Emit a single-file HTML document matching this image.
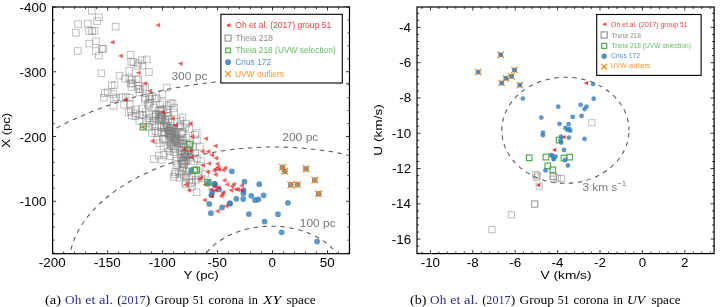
<!DOCTYPE html><html><head><meta charset="utf-8"><style>html,body{margin:0;padding:0;background:#fff;}svg{display:block;will-change:transform;}</style></head><body><svg width="725" height="307" viewBox="0 0 725 307">
<rect width="725" height="307" fill="#fff"/>
<defs><clipPath id="cl"><rect x="52.6" y="7" width="296.9" height="246.7"/></clipPath><clipPath id="cr"><rect x="417" y="7" width="297.1" height="246.6"/></clipPath></defs>
<g clip-path="url(#cl)">
<ellipse cx="271.4" cy="277.4" rx="74" ry="51.2" fill="none" stroke="#555" stroke-width="1.05" stroke-dasharray="4.5 4.5" stroke-dashoffset="0"/>
<ellipse cx="274.1" cy="266.9" rx="205.3" ry="119.9" fill="none" stroke="#555" stroke-width="1.05" stroke-dasharray="4.5 4.5" stroke-dashoffset="3.1"/>
<ellipse cx="274.1" cy="267.7" rx="323.4" ry="188.9" fill="none" stroke="#555" stroke-width="1.05" stroke-dasharray="4.5 4.5" stroke-dashoffset="-3.5"/>
<rect x="88.4" y="7.6" width="6.6" height="6.6" fill="none" stroke="#808080" stroke-width="0.9" stroke-opacity="0.55"/>
<rect x="95.6" y="13.9" width="6.6" height="6.6" fill="none" stroke="#808080" stroke-width="0.9" stroke-opacity="0.55"/>
<rect x="93.7" y="17.8" width="6.6" height="6.6" fill="none" stroke="#808080" stroke-width="0.9" stroke-opacity="0.55"/>
<rect x="74.7" y="20.8" width="6.6" height="6.6" fill="none" stroke="#808080" stroke-width="0.9" stroke-opacity="0.55"/>
<rect x="84.5" y="20.3" width="6.6" height="6.6" fill="none" stroke="#808080" stroke-width="0.9" stroke-opacity="0.55"/>
<rect x="112.3" y="23.3" width="6.6" height="6.6" fill="none" stroke="#808080" stroke-width="0.9" stroke-opacity="0.55"/>
<rect x="72.6" y="29.5" width="6.6" height="6.6" fill="none" stroke="#808080" stroke-width="0.9" stroke-opacity="0.55"/>
<rect x="85.9" y="27.6" width="6.6" height="6.6" fill="none" stroke="#808080" stroke-width="0.9" stroke-opacity="0.55"/>
<rect x="88.8" y="27.6" width="6.6" height="6.6" fill="none" stroke="#808080" stroke-width="0.9" stroke-opacity="0.55"/>
<rect x="91.3" y="27.6" width="6.6" height="6.6" fill="none" stroke="#808080" stroke-width="0.9" stroke-opacity="0.55"/>
<rect x="85.9" y="40.3" width="6.6" height="6.6" fill="none" stroke="#808080" stroke-width="0.9" stroke-opacity="0.55"/>
<rect x="92.7" y="37.9" width="6.6" height="6.6" fill="none" stroke="#808080" stroke-width="0.9" stroke-opacity="0.55"/>
<rect x="74.5" y="47.7" width="6.6" height="6.6" fill="none" stroke="#808080" stroke-width="0.9" stroke-opacity="0.55"/>
<rect x="92.7" y="47.7" width="6.6" height="6.6" fill="none" stroke="#808080" stroke-width="0.9" stroke-opacity="0.55"/>
<rect x="98.6" y="45.8" width="6.6" height="6.6" fill="none" stroke="#808080" stroke-width="0.9" stroke-opacity="0.55"/>
<rect x="99.9" y="45.4" width="6.6" height="6.6" fill="none" stroke="#808080" stroke-width="0.9" stroke-opacity="0.55"/>
<rect x="95.6" y="52.2" width="6.6" height="6.6" fill="none" stroke="#808080" stroke-width="0.9" stroke-opacity="0.55"/>
<rect x="127.2" y="51.6" width="6.6" height="6.6" fill="none" stroke="#808080" stroke-width="0.9" stroke-opacity="0.55"/>
<rect x="127.9" y="58.5" width="6.6" height="6.6" fill="none" stroke="#808080" stroke-width="0.9" stroke-opacity="0.55"/>
<rect x="143.4" y="56.1" width="6.6" height="6.6" fill="none" stroke="#808080" stroke-width="0.9" stroke-opacity="0.55"/>
<rect x="138.6" y="57" width="6.6" height="6.6" fill="none" stroke="#808080" stroke-width="0.9" stroke-opacity="0.55"/>
<rect x="135.2" y="60.1" width="6.6" height="6.6" fill="none" stroke="#808080" stroke-width="0.9" stroke-opacity="0.55"/>
<rect x="98" y="70" width="6.6" height="6.6" fill="none" stroke="#808080" stroke-width="0.9" stroke-opacity="0.55"/>
<rect x="116.2" y="72.3" width="6.6" height="6.6" fill="none" stroke="#808080" stroke-width="0.9" stroke-opacity="0.55"/>
<rect x="126" y="67.5" width="6.6" height="6.6" fill="none" stroke="#808080" stroke-width="0.9" stroke-opacity="0.55"/>
<rect x="121.5" y="75.3" width="6.6" height="6.6" fill="none" stroke="#808080" stroke-width="0.9" stroke-opacity="0.55"/>
<rect x="126" y="75.3" width="6.6" height="6.6" fill="none" stroke="#808080" stroke-width="0.9" stroke-opacity="0.55"/>
<rect x="108.4" y="82.1" width="6.6" height="6.6" fill="none" stroke="#808080" stroke-width="0.9" stroke-opacity="0.55"/>
<rect x="111.3" y="81.7" width="6.6" height="6.6" fill="none" stroke="#808080" stroke-width="0.9" stroke-opacity="0.55"/>
<rect x="104.4" y="89" width="6.6" height="6.6" fill="none" stroke="#808080" stroke-width="0.9" stroke-opacity="0.55"/>
<rect x="109.9" y="90.7" width="6.6" height="6.6" fill="none" stroke="#808080" stroke-width="0.9" stroke-opacity="0.55"/>
<rect x="100.5" y="94.5" width="6.6" height="6.6" fill="none" stroke="#808080" stroke-width="0.9" stroke-opacity="0.55"/>
<rect x="112.9" y="94.1" width="6.6" height="6.6" fill="none" stroke="#808080" stroke-width="0.9" stroke-opacity="0.55"/>
<rect x="118.3" y="94.2" width="6.6" height="6.6" fill="none" stroke="#808080" stroke-width="0.9" stroke-opacity="0.55"/>
<rect x="126.3" y="94.4" width="6.6" height="6.6" fill="none" stroke="#808080" stroke-width="0.9" stroke-opacity="0.55"/>
<rect x="110.3" y="102.5" width="6.6" height="6.6" fill="none" stroke="#808080" stroke-width="0.9" stroke-opacity="0.55"/>
<rect x="120.8" y="101.5" width="6.6" height="6.6" fill="none" stroke="#808080" stroke-width="0.9" stroke-opacity="0.55"/>
<rect x="126.5" y="100.7" width="6.6" height="6.6" fill="none" stroke="#808080" stroke-width="0.9" stroke-opacity="0.55"/>
<rect x="127.6" y="107.8" width="6.6" height="6.6" fill="none" stroke="#808080" stroke-width="0.9" stroke-opacity="0.55"/>
<rect x="130.1" y="58.9" width="6.6" height="6.6" fill="none" stroke="#808080" stroke-width="0.9" stroke-opacity="0.55"/>
<rect x="134" y="62.6" width="6.6" height="6.6" fill="none" stroke="#808080" stroke-width="0.9" stroke-opacity="0.55"/>
<rect x="139.1" y="62.2" width="6.6" height="6.6" fill="none" stroke="#808080" stroke-width="0.9" stroke-opacity="0.55"/>
<rect x="145.6" y="68.7" width="6.6" height="6.6" fill="none" stroke="#808080" stroke-width="0.9" stroke-opacity="0.55"/>
<rect x="128.4" y="76.5" width="6.6" height="6.6" fill="none" stroke="#808080" stroke-width="0.9" stroke-opacity="0.55"/>
<rect x="129.3" y="80.1" width="6.6" height="6.6" fill="none" stroke="#808080" stroke-width="0.9" stroke-opacity="0.55"/>
<rect x="135" y="76" width="6.6" height="6.6" fill="none" stroke="#808080" stroke-width="0.9" stroke-opacity="0.55"/>
<rect x="134.9" y="82.2" width="6.6" height="6.6" fill="none" stroke="#808080" stroke-width="0.9" stroke-opacity="0.55"/>
<rect x="136.7" y="85.8" width="6.6" height="6.6" fill="none" stroke="#808080" stroke-width="0.9" stroke-opacity="0.55"/>
<rect x="136.1" y="89.2" width="6.6" height="6.6" fill="none" stroke="#808080" stroke-width="0.9" stroke-opacity="0.55"/>
<rect x="101.6" y="89.9" width="6.6" height="6.6" fill="none" stroke="#808080" stroke-width="0.9" stroke-opacity="0.55"/>
<rect x="141.4" y="94.5" width="6.6" height="6.6" fill="none" stroke="#808080" stroke-width="0.9" stroke-opacity="0.55"/>
<rect x="148.9" y="93.2" width="6.6" height="6.6" fill="none" stroke="#808080" stroke-width="0.9" stroke-opacity="0.55"/>
<rect x="133.1" y="76.2" width="6.6" height="6.6" fill="none" stroke="#808080" stroke-width="0.9" stroke-opacity="0.55"/>
<rect x="127.4" y="80.2" width="6.6" height="6.6" fill="none" stroke="#808080" stroke-width="0.9" stroke-opacity="0.55"/>
<rect x="139.6" y="85.9" width="6.6" height="6.6" fill="none" stroke="#808080" stroke-width="0.9" stroke-opacity="0.55"/>
<rect x="163.3" y="84.3" width="6.6" height="6.6" fill="none" stroke="#808080" stroke-width="0.9" stroke-opacity="0.55"/>
<rect x="159.2" y="90.8" width="6.6" height="6.6" fill="none" stroke="#808080" stroke-width="0.9" stroke-opacity="0.55"/>
<rect x="153.5" y="94.9" width="6.6" height="6.6" fill="none" stroke="#808080" stroke-width="0.9" stroke-opacity="0.55"/>
<rect x="146.2" y="95.7" width="6.6" height="6.6" fill="none" stroke="#808080" stroke-width="0.9" stroke-opacity="0.55"/>
<rect x="122.5" y="93.3" width="6.6" height="6.6" fill="none" stroke="#808080" stroke-width="0.9" stroke-opacity="0.55"/>
<rect x="167.4" y="99.8" width="6.6" height="6.6" fill="none" stroke="#808080" stroke-width="0.9" stroke-opacity="0.55"/>
<rect x="159.2" y="99" width="6.6" height="6.6" fill="none" stroke="#808080" stroke-width="0.9" stroke-opacity="0.55"/>
<rect x="144.5" y="100.6" width="6.6" height="6.6" fill="none" stroke="#808080" stroke-width="0.9" stroke-opacity="0.55"/>
<rect x="110.6" y="95.4" width="6.6" height="6.6" fill="none" stroke="#808080" stroke-width="0.9" stroke-opacity="0.55"/>
<rect x="128.2" y="83.7" width="6.6" height="6.6" fill="none" stroke="#808080" stroke-width="0.9" stroke-opacity="0.55"/>
<rect x="135.1" y="85.6" width="6.6" height="6.6" fill="none" stroke="#808080" stroke-width="0.9" stroke-opacity="0.55"/>
<rect x="141.9" y="83.7" width="6.6" height="6.6" fill="none" stroke="#808080" stroke-width="0.9" stroke-opacity="0.55"/>
<rect x="145.8" y="93.4" width="6.6" height="6.6" fill="none" stroke="#808080" stroke-width="0.9" stroke-opacity="0.55"/>
<rect x="151.7" y="95.4" width="6.6" height="6.6" fill="none" stroke="#808080" stroke-width="0.9" stroke-opacity="0.55"/>
<rect x="141.9" y="96.4" width="6.6" height="6.6" fill="none" stroke="#808080" stroke-width="0.9" stroke-opacity="0.55"/>
<rect x="146.8" y="99.3" width="6.6" height="6.6" fill="none" stroke="#808080" stroke-width="0.9" stroke-opacity="0.55"/>
<rect x="125.3" y="109.1" width="6.6" height="6.6" fill="none" stroke="#808080" stroke-width="0.9" stroke-opacity="0.55"/>
<rect x="132.1" y="106.2" width="6.6" height="6.6" fill="none" stroke="#808080" stroke-width="0.9" stroke-opacity="0.55"/>
<rect x="139" y="105.2" width="6.6" height="6.6" fill="none" stroke="#808080" stroke-width="0.9" stroke-opacity="0.55"/>
<rect x="145.8" y="102.2" width="6.6" height="6.6" fill="none" stroke="#808080" stroke-width="0.9" stroke-opacity="0.55"/>
<rect x="150.7" y="104.2" width="6.6" height="6.6" fill="none" stroke="#808080" stroke-width="0.9" stroke-opacity="0.55"/>
<rect x="156.6" y="101.3" width="6.6" height="6.6" fill="none" stroke="#808080" stroke-width="0.9" stroke-opacity="0.55"/>
<rect x="165.4" y="102.2" width="6.6" height="6.6" fill="none" stroke="#808080" stroke-width="0.9" stroke-opacity="0.55"/>
<rect x="169.3" y="100.3" width="6.6" height="6.6" fill="none" stroke="#808080" stroke-width="0.9" stroke-opacity="0.55"/>
<rect x="163.4" y="106.2" width="6.6" height="6.6" fill="none" stroke="#808080" stroke-width="0.9" stroke-opacity="0.55"/>
<rect x="132.1" y="113" width="6.6" height="6.6" fill="none" stroke="#808080" stroke-width="0.9" stroke-opacity="0.55"/>
<rect x="140" y="112" width="6.6" height="6.6" fill="none" stroke="#808080" stroke-width="0.9" stroke-opacity="0.55"/>
<rect x="145.8" y="111" width="6.6" height="6.6" fill="none" stroke="#808080" stroke-width="0.9" stroke-opacity="0.55"/>
<rect x="152.7" y="111" width="6.6" height="6.6" fill="none" stroke="#808080" stroke-width="0.9" stroke-opacity="0.55"/>
<rect x="158.5" y="112" width="6.6" height="6.6" fill="none" stroke="#808080" stroke-width="0.9" stroke-opacity="0.55"/>
<rect x="165.4" y="113" width="6.6" height="6.6" fill="none" stroke="#808080" stroke-width="0.9" stroke-opacity="0.55"/>
<rect x="136" y="117.9" width="6.6" height="6.6" fill="none" stroke="#808080" stroke-width="0.9" stroke-opacity="0.55"/>
<rect x="143.9" y="116.9" width="6.6" height="6.6" fill="none" stroke="#808080" stroke-width="0.9" stroke-opacity="0.55"/>
<rect x="149.7" y="117.9" width="6.6" height="6.6" fill="none" stroke="#808080" stroke-width="0.9" stroke-opacity="0.55"/>
<rect x="155.6" y="116.9" width="6.6" height="6.6" fill="none" stroke="#808080" stroke-width="0.9" stroke-opacity="0.55"/>
<rect x="161.5" y="116.9" width="6.6" height="6.6" fill="none" stroke="#808080" stroke-width="0.9" stroke-opacity="0.55"/>
<rect x="179.1" y="114" width="6.6" height="6.6" fill="none" stroke="#808080" stroke-width="0.9" stroke-opacity="0.55"/>
<rect x="177.1" y="121.8" width="6.6" height="6.6" fill="none" stroke="#808080" stroke-width="0.9" stroke-opacity="0.55"/>
<rect x="145.8" y="123.8" width="6.6" height="6.6" fill="none" stroke="#808080" stroke-width="0.9" stroke-opacity="0.55"/>
<rect x="151.7" y="122.8" width="6.6" height="6.6" fill="none" stroke="#808080" stroke-width="0.9" stroke-opacity="0.55"/>
<rect x="157.6" y="123.8" width="6.6" height="6.6" fill="none" stroke="#808080" stroke-width="0.9" stroke-opacity="0.55"/>
<rect x="163.4" y="122.8" width="6.6" height="6.6" fill="none" stroke="#808080" stroke-width="0.9" stroke-opacity="0.55"/>
<rect x="169.3" y="124.7" width="6.6" height="6.6" fill="none" stroke="#808080" stroke-width="0.9" stroke-opacity="0.55"/>
<rect x="148.7" y="129.6" width="6.6" height="6.6" fill="none" stroke="#808080" stroke-width="0.9" stroke-opacity="0.55"/>
<rect x="154.6" y="129.6" width="6.6" height="6.6" fill="none" stroke="#808080" stroke-width="0.9" stroke-opacity="0.55"/>
<rect x="160.5" y="128.6" width="6.6" height="6.6" fill="none" stroke="#808080" stroke-width="0.9" stroke-opacity="0.55"/>
<rect x="165.4" y="130.6" width="6.6" height="6.6" fill="none" stroke="#808080" stroke-width="0.9" stroke-opacity="0.55"/>
<rect x="171.2" y="128.6" width="6.6" height="6.6" fill="none" stroke="#808080" stroke-width="0.9" stroke-opacity="0.55"/>
<rect x="179.1" y="128.6" width="6.6" height="6.6" fill="none" stroke="#808080" stroke-width="0.9" stroke-opacity="0.55"/>
<rect x="153.6" y="136.5" width="6.6" height="6.6" fill="none" stroke="#808080" stroke-width="0.9" stroke-opacity="0.55"/>
<rect x="159.5" y="135.5" width="6.6" height="6.6" fill="none" stroke="#808080" stroke-width="0.9" stroke-opacity="0.55"/>
<rect x="165.4" y="136.5" width="6.6" height="6.6" fill="none" stroke="#808080" stroke-width="0.9" stroke-opacity="0.55"/>
<rect x="171.2" y="135.5" width="6.6" height="6.6" fill="none" stroke="#808080" stroke-width="0.9" stroke-opacity="0.55"/>
<rect x="177.1" y="137.4" width="6.6" height="6.6" fill="none" stroke="#808080" stroke-width="0.9" stroke-opacity="0.55"/>
<rect x="183" y="134.5" width="6.6" height="6.6" fill="none" stroke="#808080" stroke-width="0.9" stroke-opacity="0.55"/>
<rect x="132.6" y="110" width="6.6" height="6.6" fill="none" stroke="#808080" stroke-width="0.9" stroke-opacity="0.55"/>
<rect x="128.5" y="112.4" width="6.6" height="6.6" fill="none" stroke="#808080" stroke-width="0.9" stroke-opacity="0.55"/>
<rect x="136.7" y="111.6" width="6.6" height="6.6" fill="none" stroke="#808080" stroke-width="0.9" stroke-opacity="0.55"/>
<rect x="142.4" y="109.1" width="6.6" height="6.6" fill="none" stroke="#808080" stroke-width="0.9" stroke-opacity="0.55"/>
<rect x="145.6" y="114.9" width="6.6" height="6.6" fill="none" stroke="#808080" stroke-width="0.9" stroke-opacity="0.55"/>
<rect x="148.9" y="121.4" width="6.6" height="6.6" fill="none" stroke="#808080" stroke-width="0.9" stroke-opacity="0.55"/>
<rect x="152.1" y="127.9" width="6.6" height="6.6" fill="none" stroke="#808080" stroke-width="0.9" stroke-opacity="0.55"/>
<rect x="150.6" y="155.8" width="6.6" height="6.6" fill="none" stroke="#808080" stroke-width="0.9" stroke-opacity="0.55"/>
<rect x="155.5" y="152.2" width="6.6" height="6.6" fill="none" stroke="#808080" stroke-width="0.9" stroke-opacity="0.55"/>
<rect x="158.5" y="156.5" width="6.6" height="6.6" fill="none" stroke="#808080" stroke-width="0.9" stroke-opacity="0.55"/>
<rect x="160.3" y="151.6" width="6.6" height="6.6" fill="none" stroke="#808080" stroke-width="0.9" stroke-opacity="0.55"/>
<rect x="172.7" y="157.5" width="6.6" height="6.6" fill="none" stroke="#808080" stroke-width="0.9" stroke-opacity="0.55"/>
<rect x="173.1" y="161.8" width="6.6" height="6.6" fill="none" stroke="#808080" stroke-width="0.9" stroke-opacity="0.55"/>
<rect x="178.4" y="160.7" width="6.6" height="6.6" fill="none" stroke="#808080" stroke-width="0.9" stroke-opacity="0.55"/>
<rect x="181.9" y="156.9" width="6.6" height="6.6" fill="none" stroke="#808080" stroke-width="0.9" stroke-opacity="0.55"/>
<rect x="187.8" y="157.9" width="6.6" height="6.6" fill="none" stroke="#808080" stroke-width="0.9" stroke-opacity="0.55"/>
<rect x="193.6" y="155" width="6.6" height="6.6" fill="none" stroke="#808080" stroke-width="0.9" stroke-opacity="0.55"/>
<rect x="197.6" y="157.9" width="6.6" height="6.6" fill="none" stroke="#808080" stroke-width="0.9" stroke-opacity="0.55"/>
<rect x="180" y="164.7" width="6.6" height="6.6" fill="none" stroke="#808080" stroke-width="0.9" stroke-opacity="0.55"/>
<rect x="185.8" y="167.7" width="6.6" height="6.6" fill="none" stroke="#808080" stroke-width="0.9" stroke-opacity="0.55"/>
<rect x="172.1" y="168.7" width="6.6" height="6.6" fill="none" stroke="#808080" stroke-width="0.9" stroke-opacity="0.55"/>
<rect x="178" y="170.6" width="6.6" height="6.6" fill="none" stroke="#808080" stroke-width="0.9" stroke-opacity="0.55"/>
<rect x="170.5" y="173.5" width="6.6" height="6.6" fill="none" stroke="#808080" stroke-width="0.9" stroke-opacity="0.55"/>
<rect x="176.3" y="174.4" width="6.6" height="6.6" fill="none" stroke="#808080" stroke-width="0.9" stroke-opacity="0.55"/>
<rect x="182.9" y="173.5" width="6.6" height="6.6" fill="none" stroke="#808080" stroke-width="0.9" stroke-opacity="0.55"/>
<rect x="188.8" y="172.6" width="6.6" height="6.6" fill="none" stroke="#808080" stroke-width="0.9" stroke-opacity="0.55"/>
<rect x="194.6" y="171.6" width="6.6" height="6.6" fill="none" stroke="#808080" stroke-width="0.9" stroke-opacity="0.55"/>
<rect x="181.9" y="179.4" width="6.6" height="6.6" fill="none" stroke="#808080" stroke-width="0.9" stroke-opacity="0.55"/>
<rect x="188.8" y="178.4" width="6.6" height="6.6" fill="none" stroke="#808080" stroke-width="0.9" stroke-opacity="0.55"/>
<rect x="192.7" y="176.5" width="6.6" height="6.6" fill="none" stroke="#808080" stroke-width="0.9" stroke-opacity="0.55"/>
<rect x="185.8" y="125.6" width="6.6" height="6.6" fill="none" stroke="#808080" stroke-width="0.9" stroke-opacity="0.55"/>
<rect x="191.7" y="131.5" width="6.6" height="6.6" fill="none" stroke="#808080" stroke-width="0.9" stroke-opacity="0.55"/>
<rect x="193.6" y="137.3" width="6.6" height="6.6" fill="none" stroke="#808080" stroke-width="0.9" stroke-opacity="0.55"/>
<rect x="189.7" y="143.2" width="6.6" height="6.6" fill="none" stroke="#808080" stroke-width="0.9" stroke-opacity="0.55"/>
<rect x="196.6" y="143.2" width="6.6" height="6.6" fill="none" stroke="#808080" stroke-width="0.9" stroke-opacity="0.55"/>
<rect x="180.9" y="143.2" width="6.6" height="6.6" fill="none" stroke="#808080" stroke-width="0.9" stroke-opacity="0.55"/>
<rect x="183.9" y="147.1" width="6.6" height="6.6" fill="none" stroke="#808080" stroke-width="0.9" stroke-opacity="0.55"/>
<rect x="180.9" y="151" width="6.6" height="6.6" fill="none" stroke="#808080" stroke-width="0.9" stroke-opacity="0.55"/>
<rect x="185.8" y="152" width="6.6" height="6.6" fill="none" stroke="#808080" stroke-width="0.9" stroke-opacity="0.55"/>
<rect x="156.2" y="140" width="6.6" height="6.6" fill="none" stroke="#808080" stroke-width="0.9" stroke-opacity="0.55"/>
<rect x="160.2" y="143.2" width="6.6" height="6.6" fill="none" stroke="#808080" stroke-width="0.9" stroke-opacity="0.55"/>
<rect x="164.3" y="144.9" width="6.6" height="6.6" fill="none" stroke="#808080" stroke-width="0.9" stroke-opacity="0.55"/>
<rect x="169.2" y="143.2" width="6.6" height="6.6" fill="none" stroke="#808080" stroke-width="0.9" stroke-opacity="0.55"/>
<rect x="165.9" y="148.1" width="6.6" height="6.6" fill="none" stroke="#808080" stroke-width="0.9" stroke-opacity="0.55"/>
<rect x="170.8" y="148.9" width="6.6" height="6.6" fill="none" stroke="#808080" stroke-width="0.9" stroke-opacity="0.55"/>
<rect x="166.8" y="153" width="6.6" height="6.6" fill="none" stroke="#808080" stroke-width="0.9" stroke-opacity="0.55"/>
<rect x="174.1" y="160.3" width="6.6" height="6.6" fill="none" stroke="#808080" stroke-width="0.9" stroke-opacity="0.55"/>
<rect x="171.7" y="170.9" width="6.6" height="6.6" fill="none" stroke="#808080" stroke-width="0.9" stroke-opacity="0.55"/>
<rect x="175.7" y="169.3" width="6.6" height="6.6" fill="none" stroke="#808080" stroke-width="0.9" stroke-opacity="0.55"/>
<rect x="179" y="167.7" width="6.6" height="6.6" fill="none" stroke="#808080" stroke-width="0.9" stroke-opacity="0.55"/>
<rect x="180.6" y="172" width="6.6" height="6.6" fill="none" stroke="#808080" stroke-width="0.9" stroke-opacity="0.55"/>
<rect x="186" y="176" width="6.6" height="6.6" fill="none" stroke="#808080" stroke-width="0.9" stroke-opacity="0.55"/>
<rect x="188" y="179.9" width="6.6" height="6.6" fill="none" stroke="#808080" stroke-width="0.9" stroke-opacity="0.55"/>
<rect x="188.6" y="183.6" width="6.6" height="6.6" fill="none" stroke="#808080" stroke-width="0.9" stroke-opacity="0.55"/>
<rect x="175.7" y="140" width="6.6" height="6.6" fill="none" stroke="#808080" stroke-width="0.9" stroke-opacity="0.55"/>
<rect x="180.6" y="140.8" width="6.6" height="6.6" fill="none" stroke="#808080" stroke-width="0.9" stroke-opacity="0.55"/>
<rect x="172.5" y="139.1" width="6.6" height="6.6" fill="none" stroke="#808080" stroke-width="0.9" stroke-opacity="0.55"/>
<rect x="177.4" y="154.6" width="6.6" height="6.6" fill="none" stroke="#808080" stroke-width="0.9" stroke-opacity="0.55"/>
<rect x="180.6" y="161.2" width="6.6" height="6.6" fill="none" stroke="#808080" stroke-width="0.9" stroke-opacity="0.55"/>
<rect x="182.6" y="181.1" width="6.6" height="6.6" fill="none" stroke="#808080" stroke-width="0.9" stroke-opacity="0.55"/>
<rect x="193.3" y="189" width="6.6" height="6.6" fill="none" stroke="#808080" stroke-width="0.9" stroke-opacity="0.55"/>
<rect x="198.2" y="175.3" width="6.6" height="6.6" fill="none" stroke="#808080" stroke-width="0.9" stroke-opacity="0.55"/>
<rect x="202.1" y="170.4" width="6.6" height="6.6" fill="none" stroke="#808080" stroke-width="0.9" stroke-opacity="0.55"/>
<rect x="196.3" y="162.6" width="6.6" height="6.6" fill="none" stroke="#808080" stroke-width="0.9" stroke-opacity="0.55"/>
<rect x="183.5" y="168.4" width="6.6" height="6.6" fill="none" stroke="#808080" stroke-width="0.9" stroke-opacity="0.55"/>
<rect x="209" y="184.1" width="6.6" height="6.6" fill="none" stroke="#808080" stroke-width="0.9" stroke-opacity="0.55"/>
<rect x="170.6" y="104.7" width="6.6" height="6.6" fill="none" stroke="#808080" stroke-width="0.9" stroke-opacity="0.55"/>
<rect x="170.9" y="109.2" width="6.6" height="6.6" fill="none" stroke="#808080" stroke-width="0.9" stroke-opacity="0.55"/>
<rect x="177.1" y="117.1" width="6.6" height="6.6" fill="none" stroke="#808080" stroke-width="0.9" stroke-opacity="0.55"/>
<rect x="183" y="120.3" width="6.6" height="6.6" fill="none" stroke="#808080" stroke-width="0.9" stroke-opacity="0.55"/>
<rect x="181.7" y="124.3" width="6.6" height="6.6" fill="none" stroke="#808080" stroke-width="0.9" stroke-opacity="0.55"/>
<rect x="177.1" y="123" width="6.6" height="6.6" fill="none" stroke="#808080" stroke-width="0.9" stroke-opacity="0.55"/>
<rect x="193.4" y="129.5" width="6.6" height="6.6" fill="none" stroke="#808080" stroke-width="0.9" stroke-opacity="0.55"/>
<rect x="160.6" y="124.45" width="6.6" height="6.6" fill="none" stroke="#808080" stroke-width="0.9" stroke-opacity="0.55"/>
<rect x="150.84" y="113.24" width="6.6" height="6.6" fill="none" stroke="#808080" stroke-width="0.9" stroke-opacity="0.55"/>
<rect x="171.76" y="131.82" width="6.6" height="6.6" fill="none" stroke="#808080" stroke-width="0.9" stroke-opacity="0.55"/>
<rect x="169" y="131.73" width="6.6" height="6.6" fill="none" stroke="#808080" stroke-width="0.9" stroke-opacity="0.55"/>
<rect x="155.25" y="107.59" width="6.6" height="6.6" fill="none" stroke="#808080" stroke-width="0.9" stroke-opacity="0.55"/>
<rect x="155.22" y="111.46" width="6.6" height="6.6" fill="none" stroke="#808080" stroke-width="0.9" stroke-opacity="0.55"/>
<rect x="166.26" y="127.7" width="6.6" height="6.6" fill="none" stroke="#808080" stroke-width="0.9" stroke-opacity="0.55"/>
<rect x="161.96" y="116.23" width="6.6" height="6.6" fill="none" stroke="#808080" stroke-width="0.9" stroke-opacity="0.55"/>
<rect x="169.47" y="140.05" width="6.6" height="6.6" fill="none" stroke="#808080" stroke-width="0.9" stroke-opacity="0.55"/>
<rect x="167.74" y="124.64" width="6.6" height="6.6" fill="none" stroke="#808080" stroke-width="0.9" stroke-opacity="0.55"/>
<rect x="178.94" y="158.49" width="6.6" height="6.6" fill="none" stroke="#808080" stroke-width="0.9" stroke-opacity="0.55"/>
<rect x="160.45" y="122.09" width="6.6" height="6.6" fill="none" stroke="#808080" stroke-width="0.9" stroke-opacity="0.55"/>
<rect x="155.28" y="115.27" width="6.6" height="6.6" fill="none" stroke="#808080" stroke-width="0.9" stroke-opacity="0.55"/>
<rect x="178.32" y="147.38" width="6.6" height="6.6" fill="none" stroke="#808080" stroke-width="0.9" stroke-opacity="0.55"/>
<rect x="163.41" y="112.14" width="6.6" height="6.6" fill="none" stroke="#808080" stroke-width="0.9" stroke-opacity="0.55"/>
<rect x="167.93" y="122.75" width="6.6" height="6.6" fill="none" stroke="#808080" stroke-width="0.9" stroke-opacity="0.55"/>
<rect x="170.13" y="133.83" width="6.6" height="6.6" fill="none" stroke="#808080" stroke-width="0.9" stroke-opacity="0.55"/>
<rect x="159.21" y="116.94" width="6.6" height="6.6" fill="none" stroke="#808080" stroke-width="0.9" stroke-opacity="0.55"/>
<rect x="178.7" y="137.33" width="6.6" height="6.6" fill="none" stroke="#808080" stroke-width="0.9" stroke-opacity="0.55"/>
<rect x="171.21" y="135.8" width="6.6" height="6.6" fill="none" stroke="#808080" stroke-width="0.9" stroke-opacity="0.55"/>
<rect x="170.12" y="127.03" width="6.6" height="6.6" fill="none" stroke="#808080" stroke-width="0.9" stroke-opacity="0.55"/>
<rect x="170.25" y="144.65" width="6.6" height="6.6" fill="none" stroke="#808080" stroke-width="0.9" stroke-opacity="0.55"/>
<rect x="165" y="115.58" width="6.6" height="6.6" fill="none" stroke="#808080" stroke-width="0.9" stroke-opacity="0.55"/>
<rect x="184.47" y="147.28" width="6.6" height="6.6" fill="none" stroke="#808080" stroke-width="0.9" stroke-opacity="0.55"/>
<rect x="179.93" y="139.99" width="6.6" height="6.6" fill="none" stroke="#808080" stroke-width="0.9" stroke-opacity="0.55"/>
<rect x="146.72" y="119.44" width="6.6" height="6.6" fill="none" stroke="#808080" stroke-width="0.9" stroke-opacity="0.55"/>
<rect x="166.82" y="126.84" width="6.6" height="6.6" fill="none" stroke="#808080" stroke-width="0.9" stroke-opacity="0.55"/>
<rect x="171.43" y="128.68" width="6.6" height="6.6" fill="none" stroke="#808080" stroke-width="0.9" stroke-opacity="0.55"/>
<rect x="157.1" y="106.41" width="6.6" height="6.6" fill="none" stroke="#808080" stroke-width="0.9" stroke-opacity="0.55"/>
<rect x="177.62" y="130.35" width="6.6" height="6.6" fill="none" stroke="#808080" stroke-width="0.9" stroke-opacity="0.55"/>
<rect x="184.67" y="147.16" width="6.6" height="6.6" fill="none" stroke="#808080" stroke-width="0.9" stroke-opacity="0.55"/>
<rect x="167.7" y="138.92" width="6.6" height="6.6" fill="none" stroke="#808080" stroke-width="0.9" stroke-opacity="0.55"/>
<rect x="179.18" y="129.74" width="6.6" height="6.6" fill="none" stroke="#808080" stroke-width="0.9" stroke-opacity="0.55"/>
<rect x="182.91" y="153.4" width="6.6" height="6.6" fill="none" stroke="#808080" stroke-width="0.9" stroke-opacity="0.55"/>
<rect x="169.49" y="128.98" width="6.6" height="6.6" fill="none" stroke="#808080" stroke-width="0.9" stroke-opacity="0.55"/>
<rect x="177.67" y="139.58" width="6.6" height="6.6" fill="none" stroke="#808080" stroke-width="0.9" stroke-opacity="0.55"/>
<rect x="167.89" y="142.59" width="6.6" height="6.6" fill="none" stroke="#808080" stroke-width="0.9" stroke-opacity="0.55"/>
<rect x="162.67" y="120.15" width="6.6" height="6.6" fill="none" stroke="#808080" stroke-width="0.9" stroke-opacity="0.55"/>
<rect x="166.2" y="124.95" width="6.6" height="6.6" fill="none" stroke="#808080" stroke-width="0.9" stroke-opacity="0.55"/>
<rect x="169.08" y="128.38" width="6.6" height="6.6" fill="none" stroke="#808080" stroke-width="0.9" stroke-opacity="0.55"/>
<rect x="157.46" y="115.44" width="6.6" height="6.6" fill="none" stroke="#808080" stroke-width="0.9" stroke-opacity="0.55"/>
<rect x="177.96" y="144.18" width="6.6" height="6.6" fill="none" stroke="#808080" stroke-width="0.9" stroke-opacity="0.55"/>
<rect x="157.04" y="112.95" width="6.6" height="6.6" fill="none" stroke="#808080" stroke-width="0.9" stroke-opacity="0.55"/>
<rect x="178.67" y="151.12" width="6.6" height="6.6" fill="none" stroke="#808080" stroke-width="0.9" stroke-opacity="0.55"/>
<rect x="159.84" y="107.45" width="6.6" height="6.6" fill="none" stroke="#808080" stroke-width="0.9" stroke-opacity="0.55"/>
<rect x="181.28" y="150.13" width="6.6" height="6.6" fill="none" stroke="#808080" stroke-width="0.9" stroke-opacity="0.55"/>
<rect x="178.61" y="147.4" width="6.6" height="6.6" fill="none" stroke="#808080" stroke-width="0.9" stroke-opacity="0.55"/>
<rect x="169.06" y="125.05" width="6.6" height="6.6" fill="none" stroke="#808080" stroke-width="0.9" stroke-opacity="0.55"/>
<rect x="158" y="128.81" width="6.6" height="6.6" fill="none" stroke="#808080" stroke-width="0.9" stroke-opacity="0.55"/>
<rect x="163.97" y="109.59" width="6.6" height="6.6" fill="none" stroke="#808080" stroke-width="0.9" stroke-opacity="0.55"/>
<rect x="158.39" y="115.37" width="6.6" height="6.6" fill="none" stroke="#808080" stroke-width="0.9" stroke-opacity="0.55"/>
<rect x="166.53" y="131.86" width="6.6" height="6.6" fill="none" stroke="#808080" stroke-width="0.9" stroke-opacity="0.55"/>
<rect x="172.76" y="134.96" width="6.6" height="6.6" fill="none" stroke="#808080" stroke-width="0.9" stroke-opacity="0.55"/>
<rect x="166.61" y="127.04" width="6.6" height="6.6" fill="none" stroke="#808080" stroke-width="0.9" stroke-opacity="0.55"/>
<rect x="173.56" y="118.54" width="6.6" height="6.6" fill="none" stroke="#808080" stroke-width="0.9" stroke-opacity="0.55"/>
<rect x="179.85" y="137.24" width="6.6" height="6.6" fill="none" stroke="#808080" stroke-width="0.9" stroke-opacity="0.55"/>
<rect x="174.3" y="128.56" width="6.6" height="6.6" fill="none" stroke="#808080" stroke-width="0.9" stroke-opacity="0.55"/>
<rect x="158.25" y="106.66" width="6.6" height="6.6" fill="none" stroke="#808080" stroke-width="0.9" stroke-opacity="0.55"/>
<rect x="181.88" y="150.87" width="6.6" height="6.6" fill="none" stroke="#808080" stroke-width="0.9" stroke-opacity="0.55"/>
<rect x="187.18" y="139.79" width="6.6" height="6.6" fill="none" stroke="#808080" stroke-width="0.9" stroke-opacity="0.55"/>
<rect x="167.42" y="124.55" width="6.6" height="6.6" fill="none" stroke="#808080" stroke-width="0.9" stroke-opacity="0.55"/>
<rect x="173.25" y="137.87" width="6.6" height="6.6" fill="none" stroke="#808080" stroke-width="0.9" stroke-opacity="0.55"/>
<rect x="152.53" y="111.31" width="6.6" height="6.6" fill="none" stroke="#808080" stroke-width="0.9" stroke-opacity="0.55"/>
<rect x="157.19" y="115.22" width="6.6" height="6.6" fill="none" stroke="#808080" stroke-width="0.9" stroke-opacity="0.55"/>
<rect x="164.19" y="123.08" width="6.6" height="6.6" fill="none" stroke="#808080" stroke-width="0.9" stroke-opacity="0.55"/>
<rect x="157.82" y="113.98" width="6.6" height="6.6" fill="none" stroke="#808080" stroke-width="0.9" stroke-opacity="0.55"/>
<rect x="156.7" y="111.18" width="6.6" height="6.6" fill="none" stroke="#808080" stroke-width="0.9" stroke-opacity="0.55"/>
<rect x="181.8" y="149.11" width="6.6" height="6.6" fill="none" stroke="#808080" stroke-width="0.9" stroke-opacity="0.55"/>
<rect x="171.91" y="137.36" width="6.6" height="6.6" fill="none" stroke="#808080" stroke-width="0.9" stroke-opacity="0.55"/>
<rect x="162.26" y="124.97" width="6.6" height="6.6" fill="none" stroke="#808080" stroke-width="0.9" stroke-opacity="0.55"/>
<rect x="167.78" y="140.82" width="6.6" height="6.6" fill="none" stroke="#808080" stroke-width="0.9" stroke-opacity="0.55"/>
<rect x="181.11" y="159.6" width="6.6" height="6.6" fill="none" stroke="#808080" stroke-width="0.9" stroke-opacity="0.55"/>
<rect x="175.87" y="139.71" width="6.6" height="6.6" fill="none" stroke="#808080" stroke-width="0.9" stroke-opacity="0.55"/>
<rect x="166.71" y="129.86" width="6.6" height="6.6" fill="none" stroke="#808080" stroke-width="0.9" stroke-opacity="0.55"/>
<rect x="172.47" y="136.58" width="6.6" height="6.6" fill="none" stroke="#808080" stroke-width="0.9" stroke-opacity="0.55"/>
<rect x="161.96" y="135.83" width="6.6" height="6.6" fill="none" stroke="#808080" stroke-width="0.9" stroke-opacity="0.55"/>
<rect x="161.36" y="130.07" width="6.6" height="6.6" fill="none" stroke="#808080" stroke-width="0.9" stroke-opacity="0.55"/>
<rect x="169" y="130.25" width="6.6" height="6.6" fill="none" stroke="#808080" stroke-width="0.9" stroke-opacity="0.55"/>
<rect x="172.15" y="145.77" width="6.6" height="6.6" fill="none" stroke="#808080" stroke-width="0.9" stroke-opacity="0.55"/>
<rect x="184.57" y="156.53" width="6.6" height="6.6" fill="none" stroke="#808080" stroke-width="0.9" stroke-opacity="0.55"/>
<rect x="183.68" y="152.01" width="6.6" height="6.6" fill="none" stroke="#808080" stroke-width="0.9" stroke-opacity="0.55"/>
<rect x="174.81" y="136.02" width="6.6" height="6.6" fill="none" stroke="#808080" stroke-width="0.9" stroke-opacity="0.55"/>
<rect x="167.65" y="132.1" width="6.6" height="6.6" fill="none" stroke="#808080" stroke-width="0.9" stroke-opacity="0.55"/>
<rect x="185.06" y="147.27" width="6.6" height="6.6" fill="none" stroke="#808080" stroke-width="0.9" stroke-opacity="0.55"/>
<rect x="170.61" y="137.3" width="6.6" height="6.6" fill="none" stroke="#808080" stroke-width="0.9" stroke-opacity="0.55"/>
<rect x="179.48" y="160.38" width="6.6" height="6.6" fill="none" stroke="#808080" stroke-width="0.9" stroke-opacity="0.55"/>
<rect x="180.52" y="153.74" width="6.6" height="6.6" fill="none" stroke="#808080" stroke-width="0.9" stroke-opacity="0.55"/>
<rect x="185.92" y="144.92" width="6.6" height="6.6" fill="none" stroke="#808080" stroke-width="0.9" stroke-opacity="0.55"/>
<rect x="172.51" y="131.37" width="6.6" height="6.6" fill="none" stroke="#808080" stroke-width="0.9" stroke-opacity="0.55"/>
<rect x="165.65" y="127.33" width="6.6" height="6.6" fill="none" stroke="#808080" stroke-width="0.9" stroke-opacity="0.55"/>
<rect x="165.75" y="127.21" width="6.6" height="6.6" fill="none" stroke="#808080" stroke-width="0.9" stroke-opacity="0.55"/>
<rect x="176.75" y="149.22" width="6.6" height="6.6" fill="none" stroke="#808080" stroke-width="0.9" stroke-opacity="0.55"/>
<rect x="192.07" y="150.3" width="6.6" height="6.6" fill="none" stroke="#808080" stroke-width="0.9" stroke-opacity="0.55"/>
<rect x="182.94" y="158.1" width="6.6" height="6.6" fill="none" stroke="#808080" stroke-width="0.9" stroke-opacity="0.55"/>
<rect x="186.28" y="154.28" width="6.6" height="6.6" fill="none" stroke="#808080" stroke-width="0.9" stroke-opacity="0.55"/>
<rect x="167.73" y="134.72" width="6.6" height="6.6" fill="none" stroke="#808080" stroke-width="0.9" stroke-opacity="0.55"/>
<rect x="167.53" y="133.51" width="6.6" height="6.6" fill="none" stroke="#808080" stroke-width="0.9" stroke-opacity="0.55"/>
<rect x="179.21" y="156.79" width="6.6" height="6.6" fill="none" stroke="#808080" stroke-width="0.9" stroke-opacity="0.55"/>
<rect x="187.08" y="148.6" width="6.6" height="6.6" fill="none" stroke="#808080" stroke-width="0.9" stroke-opacity="0.55"/>
<rect x="180.88" y="151.12" width="6.6" height="6.6" fill="none" stroke="#808080" stroke-width="0.9" stroke-opacity="0.55"/>
<circle cx="231.8" cy="171.3" r="2.9" fill="#377eb8" fill-opacity="0.8"/>
<circle cx="244.5" cy="181.7" r="2.9" fill="#377eb8" fill-opacity="0.8"/>
<circle cx="259.3" cy="184.2" r="2.9" fill="#377eb8" fill-opacity="0.8"/>
<circle cx="215.2" cy="184.4" r="2.9" fill="#377eb8" fill-opacity="0.8"/>
<circle cx="219.1" cy="189.3" r="2.9" fill="#377eb8" fill-opacity="0.8"/>
<circle cx="212.3" cy="192.3" r="2.9" fill="#377eb8" fill-opacity="0.8"/>
<circle cx="211.3" cy="195.2" r="2.9" fill="#377eb8" fill-opacity="0.8"/>
<circle cx="243.6" cy="190.3" r="2.9" fill="#377eb8" fill-opacity="0.8"/>
<circle cx="243.4" cy="193.2" r="2.9" fill="#377eb8" fill-opacity="0.8"/>
<circle cx="251.3" cy="195.8" r="2.9" fill="#377eb8" fill-opacity="0.8"/>
<circle cx="236.3" cy="198.8" r="2.9" fill="#377eb8" fill-opacity="0.8"/>
<circle cx="243.2" cy="199" r="2.9" fill="#377eb8" fill-opacity="0.8"/>
<circle cx="255.1" cy="200.2" r="2.9" fill="#377eb8" fill-opacity="0.8"/>
<circle cx="258.3" cy="199.4" r="2.9" fill="#377eb8" fill-opacity="0.8"/>
<circle cx="209.3" cy="204" r="2.9" fill="#377eb8" fill-opacity="0.8"/>
<circle cx="222.1" cy="207.5" r="2.9" fill="#377eb8" fill-opacity="0.8"/>
<circle cx="229.9" cy="203.4" r="2.9" fill="#377eb8" fill-opacity="0.8"/>
<circle cx="210.9" cy="213.2" r="2.9" fill="#377eb8" fill-opacity="0.8"/>
<circle cx="248.9" cy="214.1" r="2.9" fill="#377eb8" fill-opacity="0.8"/>
<circle cx="263.6" cy="195.3" r="2.9" fill="#377eb8" fill-opacity="0.8"/>
<circle cx="287.9" cy="202.8" r="2.9" fill="#377eb8" fill-opacity="0.8"/>
<circle cx="278" cy="214.2" r="2.9" fill="#377eb8" fill-opacity="0.8"/>
<circle cx="264.6" cy="221.6" r="2.9" fill="#377eb8" fill-opacity="0.8"/>
<circle cx="281.7" cy="232.3" r="2.9" fill="#377eb8" fill-opacity="0.8"/>
<circle cx="317.1" cy="241.6" r="2.9" fill="#377eb8" fill-opacity="0.8"/>
<circle cx="191.1" cy="171" r="2.9" fill="#377eb8" fill-opacity="0.8"/>
<circle cx="208.7" cy="182.7" r="2.9" fill="#377eb8" fill-opacity="0.8"/>
<circle cx="214.5" cy="183.7" r="2.9" fill="#377eb8" fill-opacity="0.8"/>
<circle cx="230" cy="203.5" r="2.9" fill="#377eb8" fill-opacity="0.8"/>
<path d="M109.8 42.2L114.6 39.8L114.6 44.6Z" fill="#e41a1c" fill-opacity="0.68"/>
<path d="M118.1 55.9L122.9 53.5L122.9 58.3Z" fill="#e41a1c" fill-opacity="0.68"/>
<path d="M155.4 25.2L160.2 22.8L160.2 27.6Z" fill="#e41a1c" fill-opacity="0.68"/>
<path d="M177.8 63.6L182.6 61.2L182.6 66Z" fill="#e41a1c" fill-opacity="0.68"/>
<path d="M123 99.5L127.8 97.1L127.8 101.9Z" fill="#e41a1c" fill-opacity="0.68"/>
<path d="M135.8 72.8L140.6 70.4L140.6 75.2Z" fill="#e41a1c" fill-opacity="0.68"/>
<path d="M142.4 83.4L147.2 81L147.2 85.8Z" fill="#e41a1c" fill-opacity="0.68"/>
<path d="M147.4 91L152.2 88.6L152.2 93.4Z" fill="#e41a1c" fill-opacity="0.68"/>
<path d="M160.1 112.1L164.9 109.7L164.9 114.5Z" fill="#e41a1c" fill-opacity="0.68"/>
<path d="M170 118.5L174.8 116.1L174.8 120.9Z" fill="#e41a1c" fill-opacity="0.68"/>
<path d="M173 125.3L177.8 122.9L177.8 127.7Z" fill="#e41a1c" fill-opacity="0.68"/>
<path d="M139.9 126.9L144.7 124.5L144.7 129.3Z" fill="#e41a1c" fill-opacity="0.68"/>
<path d="M149.8 141.1L154.6 138.7L154.6 143.5Z" fill="#e41a1c" fill-opacity="0.68"/>
<path d="M187.8 123.5L192.6 121.1L192.6 125.9Z" fill="#e41a1c" fill-opacity="0.68"/>
<path d="M189.4 136.5L194.2 134.1L194.2 138.9Z" fill="#e41a1c" fill-opacity="0.68"/>
<path d="M203.3 138.7L208.1 136.3L208.1 141.1Z" fill="#e41a1c" fill-opacity="0.68"/>
<path d="M181.7 149.2L186.5 146.8L186.5 151.6Z" fill="#e41a1c" fill-opacity="0.68"/>
<path d="M187.8 150.6L192.6 148.2L192.6 153Z" fill="#e41a1c" fill-opacity="0.68"/>
<path d="M188.8 157.2L193.6 154.8L193.6 159.6Z" fill="#e41a1c" fill-opacity="0.68"/>
<path d="M196.8 179.2L201.6 176.8L201.6 181.6Z" fill="#e41a1c" fill-opacity="0.68"/>
<path d="M221.8 180.3L226.6 177.9L226.6 182.7Z" fill="#e41a1c" fill-opacity="0.68"/>
<path d="M183.2 184.5L188 182.1L188 186.9Z" fill="#e41a1c" fill-opacity="0.68"/>
<path d="M186.4 190.3L191.2 187.9L191.2 192.7Z" fill="#e41a1c" fill-opacity="0.68"/>
<path d="M224.5 184.4L229.3 182L229.3 186.8Z" fill="#e41a1c" fill-opacity="0.68"/>
<path d="M231 184.1L235.8 181.7L235.8 186.5Z" fill="#e41a1c" fill-opacity="0.68"/>
<path d="M229.4 186.4L234.2 184L234.2 188.8Z" fill="#e41a1c" fill-opacity="0.68"/>
<path d="M228.5 190.3L233.3 187.9L233.3 192.7Z" fill="#e41a1c" fill-opacity="0.68"/>
<path d="M233.3 189.3L238.1 186.9L238.1 191.7Z" fill="#e41a1c" fill-opacity="0.68"/>
<path d="M239.2 185.4L244 183L244 187.8Z" fill="#e41a1c" fill-opacity="0.68"/>
<path d="M239.2 190.3L244 187.9L244 192.7Z" fill="#e41a1c" fill-opacity="0.68"/>
<path d="M208.9 189.3L213.7 186.9L213.7 191.7Z" fill="#e41a1c" fill-opacity="0.68"/>
<path d="M211.8 186.4L216.6 184L216.6 188.8Z" fill="#e41a1c" fill-opacity="0.68"/>
<path d="M215.7 187.4L220.5 185L220.5 189.8Z" fill="#e41a1c" fill-opacity="0.68"/>
<path d="M212.8 190.3L217.6 187.9L217.6 192.7Z" fill="#e41a1c" fill-opacity="0.68"/>
<path d="M220.6 192.3L225.4 189.9L225.4 194.7Z" fill="#e41a1c" fill-opacity="0.68"/>
<path d="M218.7 196.2L223.5 193.8L223.5 198.6Z" fill="#e41a1c" fill-opacity="0.68"/>
<path d="M219.7 194.2L224.5 191.8L224.5 196.6Z" fill="#e41a1c" fill-opacity="0.68"/>
<path d="M208.9 196.2L213.7 193.8L213.7 198.6Z" fill="#e41a1c" fill-opacity="0.68"/>
<path d="M202 200.1L206.8 197.7L206.8 202.5Z" fill="#e41a1c" fill-opacity="0.68"/>
<path d="M223.6 206L228.4 203.6L228.4 208.4Z" fill="#e41a1c" fill-opacity="0.68"/>
<path d="M214.8 211.2L219.6 208.8L219.6 213.6Z" fill="#e41a1c" fill-opacity="0.68"/>
<path d="M202.6 184.4L207.4 182L207.4 186.8Z" fill="#e41a1c" fill-opacity="0.68"/>
<path d="M235.4 189.5L240.2 187.1L240.2 191.9Z" fill="#e41a1c" fill-opacity="0.68"/>
<path d="M212.8 145.9L217.6 143.5L217.6 148.3Z" fill="#e41a1c" fill-opacity="0.68"/>
<path d="M199.8 151.5L204.6 149.1L204.6 153.9Z" fill="#e41a1c" fill-opacity="0.68"/>
<path d="M205.6 151.5L210.4 149.1L210.4 153.9Z" fill="#e41a1c" fill-opacity="0.68"/>
<path d="M209.3 155L214.1 152.6L214.1 157.4Z" fill="#e41a1c" fill-opacity="0.68"/>
<path d="M213.4 158.2L218.2 155.8L218.2 160.6Z" fill="#e41a1c" fill-opacity="0.68"/>
<path d="M200.4 165.4L205.2 163L205.2 167.8Z" fill="#e41a1c" fill-opacity="0.68"/>
<path d="M206.3 163.4L211.1 161L211.1 165.8Z" fill="#e41a1c" fill-opacity="0.68"/>
<path d="M214.7 164.1L219.5 161.7L219.5 166.5Z" fill="#e41a1c" fill-opacity="0.68"/>
<path d="M215.4 167.3L220.2 164.9L220.2 169.7Z" fill="#e41a1c" fill-opacity="0.68"/>
<path d="M212.8 168.9L217.6 166.5L217.6 171.3Z" fill="#e41a1c" fill-opacity="0.68"/>
<path d="M216.3 169.7L221.1 167.3L221.1 172.1Z" fill="#e41a1c" fill-opacity="0.68"/>
<path d="M220.6 170L225.4 167.6L225.4 172.4Z" fill="#e41a1c" fill-opacity="0.68"/>
<path d="M222.6 168L227.4 165.6L227.4 170.4Z" fill="#e41a1c" fill-opacity="0.68"/>
<path d="M205 171.9L209.8 169.5L209.8 174.3Z" fill="#e41a1c" fill-opacity="0.68"/>
<path d="M211.5 170.6L216.3 168.2L216.3 173Z" fill="#e41a1c" fill-opacity="0.68"/>
<path d="M212.8 174.5L217.6 172.1L217.6 176.9Z" fill="#e41a1c" fill-opacity="0.68"/>
<path d="M198.5 177.8L203.3 175.4L203.3 180.2Z" fill="#e41a1c" fill-opacity="0.68"/>
<rect x="140.2" y="123.8" width="6" height="6" fill="none" stroke="#4daf4a" stroke-width="1.3" stroke-opacity="1"/>
<rect x="186.4" y="141.6" width="6" height="6" fill="none" stroke="#4daf4a" stroke-width="1.3" stroke-opacity="1"/>
<rect x="193.4" y="167.1" width="6" height="6" fill="none" stroke="#4daf4a" stroke-width="1.3" stroke-opacity="1"/>
<rect x="191.6" y="167.4" width="6" height="6" fill="none" stroke="#4daf4a" stroke-width="1.3" stroke-opacity="1"/>
<rect x="204.8" y="179.5" width="6" height="6" fill="none" stroke="#4daf4a" stroke-width="1.3" stroke-opacity="1"/>
<circle cx="282.5" cy="167.4" r="2.9" fill="#377eb8" fill-opacity="0.8"/>
<path d="M279.2 164.1L285.8 170.7M279.2 170.7L285.8 164.1" stroke="#ff7f00" stroke-width="1.2" fill="none"/>
<circle cx="284.8" cy="171.3" r="2.9" fill="#377eb8" fill-opacity="0.8"/>
<path d="M281.5 168L288.1 174.6M281.5 174.6L288.1 168" stroke="#ff7f00" stroke-width="1.2" fill="none"/>
<circle cx="306" cy="168.8" r="2.9" fill="#377eb8" fill-opacity="0.8"/>
<path d="M302.7 165.5L309.3 172.1M302.7 172.1L309.3 165.5" stroke="#ff7f00" stroke-width="1.2" fill="none"/>
<circle cx="290.8" cy="184.8" r="2.9" fill="#377eb8" fill-opacity="0.8"/>
<path d="M287.5 181.5L294.1 188.1M287.5 188.1L294.1 181.5" stroke="#ff7f00" stroke-width="1.2" fill="none"/>
<circle cx="297.5" cy="184.6" r="2.9" fill="#377eb8" fill-opacity="0.8"/>
<path d="M294.2 181.3L300.8 187.9M294.2 187.9L300.8 181.3" stroke="#ff7f00" stroke-width="1.2" fill="none"/>
<circle cx="314.8" cy="180.1" r="2.9" fill="#377eb8" fill-opacity="0.8"/>
<path d="M311.5 176.8L318.1 183.4M311.5 183.4L318.1 176.8" stroke="#ff7f00" stroke-width="1.2" fill="none"/>
<circle cx="318.7" cy="193.8" r="2.9" fill="#377eb8" fill-opacity="0.8"/>
<path d="M315.4 190.5L322 197.1M315.4 197.1L322 190.5" stroke="#ff7f00" stroke-width="1.2" fill="none"/>
</g>
<g clip-path="url(#cr)">
<ellipse cx="565.4" cy="130.3" rx="63.6" ry="53.0" fill="none" stroke="#555" stroke-width="1.05" stroke-dasharray="4.5 4.5" stroke-dashoffset="-2.7"/>
<rect x="588.7" y="119.7" width="6.2" height="6.2" fill="none" stroke="#808080" stroke-width="0.9" stroke-opacity="0.55"/>
<rect x="550.6" y="173.5" width="6.2" height="6.2" fill="none" stroke="#808080" stroke-width="0.9" stroke-opacity="0.55"/>
<rect x="554.1" y="174.9" width="6.2" height="6.2" fill="none" stroke="#808080" stroke-width="0.9" stroke-opacity="0.55"/>
<rect x="558.4" y="175.5" width="6.2" height="6.2" fill="none" stroke="#808080" stroke-width="0.9" stroke-opacity="0.55"/>
<rect x="532.6" y="171.3" width="6.2" height="6.2" fill="none" stroke="#808080" stroke-width="0.9" stroke-opacity="0.55"/>
<rect x="534.5" y="172.7" width="6.2" height="6.2" fill="none" stroke="#808080" stroke-width="0.9" stroke-opacity="0.55"/>
<rect x="533.5" y="174.2" width="6.2" height="6.2" fill="none" stroke="#808080" stroke-width="0.9" stroke-opacity="0.55"/>
<rect x="536.1" y="183" width="6.2" height="6.2" fill="none" stroke="#808080" stroke-width="0.9" stroke-opacity="0.55"/>
<rect x="531.7" y="201" width="6.2" height="6.2" fill="none" stroke="#808080" stroke-width="0.9" stroke-opacity="0.55"/>
<rect x="531.6" y="201" width="6.2" height="6.2" fill="none" stroke="#808080" stroke-width="0.9" stroke-opacity="0.55"/>
<rect x="508.3" y="211.7" width="6.2" height="6.2" fill="none" stroke="#808080" stroke-width="0.9" stroke-opacity="0.55"/>
<rect x="488.8" y="226.4" width="6.2" height="6.2" fill="none" stroke="#808080" stroke-width="0.9" stroke-opacity="0.55"/>
<rect x="550.1" y="173.3" width="6.2" height="6.2" fill="none" stroke="#808080" stroke-width="0.9" stroke-opacity="0.55"/>
<rect x="550.1" y="176.2" width="6.2" height="6.2" fill="none" stroke="#808080" stroke-width="0.9" stroke-opacity="0.55"/>
<path d="M583.8 83.1L588 81L588 85.2Z" fill="#e41a1c" fill-opacity="0.85"/>
<path d="M561.3 137.2L565.5 135.1L565.5 139.3Z" fill="#e41a1c" fill-opacity="0.85"/>
<path d="M552 149.9L556.2 147.8L556.2 152Z" fill="#e41a1c" fill-opacity="0.85"/>
<path d="M535.9 185.2L540.1 183.1L540.1 187.3Z" fill="#e41a1c" fill-opacity="0.85"/>
<rect x="556.3" y="137.3" width="5.6" height="5.6" fill="none" stroke="#4daf4a" stroke-width="1.2" stroke-opacity="1"/>
<rect x="543.1" y="154.3" width="5.6" height="5.6" fill="none" stroke="#4daf4a" stroke-width="1.2" stroke-opacity="1"/>
<rect x="561.2" y="155.3" width="5.6" height="5.6" fill="none" stroke="#4daf4a" stroke-width="1.2" stroke-opacity="1"/>
<rect x="566.9" y="154.3" width="5.6" height="5.6" fill="none" stroke="#4daf4a" stroke-width="1.2" stroke-opacity="1"/>
<rect x="545" y="163.1" width="5.6" height="5.6" fill="none" stroke="#4daf4a" stroke-width="1.2" stroke-opacity="1"/>
<rect x="549.9" y="167" width="5.6" height="5.6" fill="none" stroke="#4daf4a" stroke-width="1.2" stroke-opacity="1"/>
<rect x="526.4" y="155" width="5.6" height="5.6" fill="none" stroke="#4daf4a" stroke-width="1.2" stroke-opacity="1"/>
<circle cx="522.9" cy="98.6" r="2.4" fill="#377eb8" fill-opacity="0.8"/>
<circle cx="558.2" cy="106.7" r="2.4" fill="#377eb8" fill-opacity="0.8"/>
<circle cx="541.3" cy="117.6" r="2.4" fill="#377eb8" fill-opacity="0.8"/>
<circle cx="559.5" cy="123.8" r="2.4" fill="#377eb8" fill-opacity="0.8"/>
<circle cx="568.6" cy="124.1" r="2.4" fill="#377eb8" fill-opacity="0.8"/>
<circle cx="565.4" cy="127.9" r="2.4" fill="#377eb8" fill-opacity="0.8"/>
<circle cx="593.1" cy="84.1" r="2.4" fill="#377eb8" fill-opacity="0.8"/>
<circle cx="593.7" cy="98.7" r="2.4" fill="#377eb8" fill-opacity="0.8"/>
<circle cx="580.6" cy="104.8" r="2.4" fill="#377eb8" fill-opacity="0.8"/>
<circle cx="586.5" cy="106.7" r="2.4" fill="#377eb8" fill-opacity="0.8"/>
<circle cx="584.5" cy="109.1" r="2.4" fill="#377eb8" fill-opacity="0.8"/>
<circle cx="572.8" cy="116.9" r="2.4" fill="#377eb8" fill-opacity="0.8"/>
<circle cx="581.6" cy="115.9" r="2.4" fill="#377eb8" fill-opacity="0.8"/>
<circle cx="569.3" cy="128.8" r="2.4" fill="#377eb8" fill-opacity="0.8"/>
<circle cx="567.3" cy="129.8" r="2.4" fill="#377eb8" fill-opacity="0.8"/>
<circle cx="570.3" cy="130.7" r="2.4" fill="#377eb8" fill-opacity="0.8"/>
<circle cx="542.9" cy="132.7" r="2.4" fill="#377eb8" fill-opacity="0.8"/>
<circle cx="542.9" cy="135.2" r="2.4" fill="#377eb8" fill-opacity="0.8"/>
<circle cx="561.1" cy="136.6" r="2.4" fill="#377eb8" fill-opacity="0.8"/>
<circle cx="568.9" cy="137.6" r="2.4" fill="#377eb8" fill-opacity="0.8"/>
<circle cx="584.5" cy="138.9" r="2.4" fill="#377eb8" fill-opacity="0.8"/>
<circle cx="560.5" cy="140.5" r="2.4" fill="#377eb8" fill-opacity="0.8"/>
<circle cx="561.1" cy="142.5" r="2.4" fill="#377eb8" fill-opacity="0.8"/>
<circle cx="564" cy="149.9" r="2.4" fill="#377eb8" fill-opacity="0.8"/>
<circle cx="551.3" cy="155.2" r="2.4" fill="#377eb8" fill-opacity="0.8"/>
<circle cx="555.6" cy="156.7" r="2.4" fill="#377eb8" fill-opacity="0.8"/>
<circle cx="553.7" cy="159.1" r="2.4" fill="#377eb8" fill-opacity="0.8"/>
<circle cx="565" cy="160" r="2.4" fill="#377eb8" fill-opacity="0.8"/>
<circle cx="567.9" cy="165.5" r="2.4" fill="#377eb8" fill-opacity="0.8"/>
<circle cx="545.5" cy="170.4" r="2.4" fill="#377eb8" fill-opacity="0.8"/>
<circle cx="552.3" cy="155.9" r="2.4" fill="#377eb8" fill-opacity="0.8"/>
<circle cx="553.8" cy="158.8" r="2.4" fill="#377eb8" fill-opacity="0.8"/>
<path d="M497.5 51.6L503.9 58M497.5 58L503.9 51.6" stroke="#ff7f00" stroke-width="1.2" fill="none"/>
<circle cx="500.7" cy="54.8" r="2.5" fill="#377eb8" fill-opacity="0.8"/>
<path d="M475 68.8L481.4 75.2M475 75.2L481.4 68.8" stroke="#ff7f00" stroke-width="1.2" fill="none"/>
<circle cx="478.2" cy="72" r="2.5" fill="#377eb8" fill-opacity="0.8"/>
<path d="M511.3 66.8L517.7 73.2M511.3 73.2L517.7 66.8" stroke="#ff7f00" stroke-width="1.2" fill="none"/>
<circle cx="514.5" cy="70" r="2.5" fill="#377eb8" fill-opacity="0.8"/>
<path d="M508.4 73.1L514.8 79.5M508.4 79.5L514.8 73.1" stroke="#ff7f00" stroke-width="1.2" fill="none"/>
<circle cx="511.6" cy="76.3" r="2.5" fill="#377eb8" fill-opacity="0.8"/>
<path d="M502.7 75.1L509.1 81.5M502.7 81.5L509.1 75.1" stroke="#ff7f00" stroke-width="1.2" fill="none"/>
<circle cx="505.9" cy="78.3" r="2.5" fill="#377eb8" fill-opacity="0.8"/>
<path d="M498.5 79.8L504.9 86.2M498.5 86.2L504.9 79.8" stroke="#ff7f00" stroke-width="1.2" fill="none"/>
<circle cx="501.7" cy="83" r="2.5" fill="#377eb8" fill-opacity="0.8"/>
<path d="M516.6 81.9L523 88.3M516.6 88.3L523 81.9" stroke="#ff7f00" stroke-width="1.2" fill="none"/>
<circle cx="519.8" cy="85.1" r="2.5" fill="#377eb8" fill-opacity="0.8"/>
</g>
<path d="M52.6 253.7v-3.5M52.6 7v3.5M107.58 253.7v-3.5M107.58 7v3.5M162.56 253.7v-3.5M162.56 7v3.5M217.54 253.7v-3.5M217.54 7v3.5M272.52 253.7v-3.5M272.52 7v3.5M327.5 253.7v-3.5M327.5 7v3.5M63.6 253.7v-2.0M63.6 7v2.0M74.59 253.7v-2.0M74.59 7v2.0M85.59 253.7v-2.0M85.59 7v2.0M96.58 253.7v-2.0M96.58 7v2.0M118.58 253.7v-2.0M118.58 7v2.0M129.57 253.7v-2.0M129.57 7v2.0M140.57 253.7v-2.0M140.57 7v2.0M151.56 253.7v-2.0M151.56 7v2.0M173.56 253.7v-2.0M173.56 7v2.0M184.55 253.7v-2.0M184.55 7v2.0M195.55 253.7v-2.0M195.55 7v2.0M206.54 253.7v-2.0M206.54 7v2.0M228.54 253.7v-2.0M228.54 7v2.0M239.53 253.7v-2.0M239.53 7v2.0M250.53 253.7v-2.0M250.53 7v2.0M261.52 253.7v-2.0M261.52 7v2.0M283.52 253.7v-2.0M283.52 7v2.0M294.51 253.7v-2.0M294.51 7v2.0M305.51 253.7v-2.0M305.51 7v2.0M316.5 253.7v-2.0M316.5 7v2.0M338.5 253.7v-2.0M338.5 7v2.0M52.6 7h3.5M349.5 7h-3.5M52.6 71.75h3.5M349.5 71.75h-3.5M52.6 136.5h3.5M349.5 136.5h-3.5M52.6 201.25h3.5M349.5 201.25h-3.5M52.6 19.95h2.0M349.5 19.95h-2.0M52.6 32.9h2.0M349.5 32.9h-2.0M52.6 45.85h2.0M349.5 45.85h-2.0M52.6 58.8h2.0M349.5 58.8h-2.0M52.6 84.7h2.0M349.5 84.7h-2.0M52.6 97.65h2.0M349.5 97.65h-2.0M52.6 110.6h2.0M349.5 110.6h-2.0M52.6 123.55h2.0M349.5 123.55h-2.0M52.6 149.45h2.0M349.5 149.45h-2.0M52.6 162.4h2.0M349.5 162.4h-2.0M52.6 175.35h2.0M349.5 175.35h-2.0M52.6 188.3h2.0M349.5 188.3h-2.0M52.6 214.2h2.0M349.5 214.2h-2.0M52.6 227.15h2.0M349.5 227.15h-2.0M52.6 240.1h2.0M349.5 240.1h-2.0M52.6 253.05h2.0M349.5 253.05h-2.0" stroke="#000" stroke-width="0.8" fill="none"/>
<path d="M430.4 253.6v-3.5M430.4 7v3.5M472.8 253.6v-3.5M472.8 7v3.5M515.2 253.6v-3.5M515.2 7v3.5M557.6 253.6v-3.5M557.6 7v3.5M600 253.6v-3.5M600 7v3.5M642.4 253.6v-3.5M642.4 7v3.5M684.8 253.6v-3.5M684.8 7v3.5M421.92 253.6v-2.0M421.92 7v2.0M438.88 253.6v-2.0M438.88 7v2.0M447.36 253.6v-2.0M447.36 7v2.0M455.84 253.6v-2.0M455.84 7v2.0M464.32 253.6v-2.0M464.32 7v2.0M481.28 253.6v-2.0M481.28 7v2.0M489.76 253.6v-2.0M489.76 7v2.0M498.24 253.6v-2.0M498.24 7v2.0M506.72 253.6v-2.0M506.72 7v2.0M523.68 253.6v-2.0M523.68 7v2.0M532.16 253.6v-2.0M532.16 7v2.0M540.64 253.6v-2.0M540.64 7v2.0M549.12 253.6v-2.0M549.12 7v2.0M566.08 253.6v-2.0M566.08 7v2.0M574.56 253.6v-2.0M574.56 7v2.0M583.04 253.6v-2.0M583.04 7v2.0M591.52 253.6v-2.0M591.52 7v2.0M608.48 253.6v-2.0M608.48 7v2.0M616.96 253.6v-2.0M616.96 7v2.0M625.44 253.6v-2.0M625.44 7v2.0M633.92 253.6v-2.0M633.92 7v2.0M650.88 253.6v-2.0M650.88 7v2.0M659.36 253.6v-2.0M659.36 7v2.0M667.84 253.6v-2.0M667.84 7v2.0M676.32 253.6v-2.0M676.32 7v2.0M693.28 253.6v-2.0M693.28 7v2.0M701.76 253.6v-2.0M701.76 7v2.0M710.24 253.6v-2.0M710.24 7v2.0M417 27.4h3.5M714.1 27.4h-3.5M417 62.68h3.5M714.1 62.68h-3.5M417 97.96h3.5M714.1 97.96h-3.5M417 133.24h3.5M714.1 133.24h-3.5M417 168.52h3.5M714.1 168.52h-3.5M417 203.8h3.5M714.1 203.8h-3.5M417 239.08h3.5M714.1 239.08h-3.5M417 13.29h2.0M714.1 13.29h-2.0M417 20.34h2.0M714.1 20.34h-2.0M417 34.46h2.0M714.1 34.46h-2.0M417 41.51h2.0M714.1 41.51h-2.0M417 48.57h2.0M714.1 48.57h-2.0M417 55.62h2.0M714.1 55.62h-2.0M417 69.74h2.0M714.1 69.74h-2.0M417 76.79h2.0M714.1 76.79h-2.0M417 83.85h2.0M714.1 83.85h-2.0M417 90.9h2.0M714.1 90.9h-2.0M417 105.02h2.0M714.1 105.02h-2.0M417 112.07h2.0M714.1 112.07h-2.0M417 119.13h2.0M714.1 119.13h-2.0M417 126.18h2.0M714.1 126.18h-2.0M417 140.3h2.0M714.1 140.3h-2.0M417 147.35h2.0M714.1 147.35h-2.0M417 154.41h2.0M714.1 154.41h-2.0M417 161.46h2.0M714.1 161.46h-2.0M417 175.58h2.0M714.1 175.58h-2.0M417 182.63h2.0M714.1 182.63h-2.0M417 189.69h2.0M714.1 189.69h-2.0M417 196.74h2.0M714.1 196.74h-2.0M417 210.86h2.0M714.1 210.86h-2.0M417 217.91h2.0M714.1 217.91h-2.0M417 224.97h2.0M714.1 224.97h-2.0M417 232.02h2.0M714.1 232.02h-2.0M417 246.14h2.0M714.1 246.14h-2.0M417 253.19h2.0M714.1 253.19h-2.0" stroke="#000" stroke-width="0.8" fill="none"/>
<rect x="52.6" y="7.0" width="296.9" height="246.7" fill="none" stroke="#000" stroke-width="1.2"/>
<rect x="417.0" y="7.0" width="297.1" height="246.6" fill="none" stroke="#000" stroke-width="1.2"/>
<text x="38.87" y="266.8" font-size="12.4" fill="#000" font-family='"Liberation Sans", sans-serif' textLength="26.8" lengthAdjust="spacingAndGlyphs">-200</text>
<text x="93.85" y="266.8" font-size="12.4" fill="#000" font-family='"Liberation Sans", sans-serif' textLength="26.8" lengthAdjust="spacingAndGlyphs">-150</text>
<text x="148.83" y="266.8" font-size="12.4" fill="#000" font-family='"Liberation Sans", sans-serif' textLength="26.8" lengthAdjust="spacingAndGlyphs">-100</text>
<text x="207.53" y="266.8" font-size="12.4" fill="#000" font-family='"Liberation Sans", sans-serif' textLength="19.36" lengthAdjust="spacingAndGlyphs">-50</text>
<text x="268.5" y="266.8" font-size="12.4" fill="#000" font-family='"Liberation Sans", sans-serif' textLength="7.45" lengthAdjust="spacingAndGlyphs">0</text>
<text x="319.75" y="266.8" font-size="12.4" fill="#000" font-family='"Liberation Sans", sans-serif' textLength="14.9" lengthAdjust="spacingAndGlyphs">50</text>
<text x="19.62" y="12.13" font-size="12.4" fill="#000" font-family='"Liberation Sans", sans-serif' textLength="26.8" lengthAdjust="spacingAndGlyphs">-400</text>
<text x="19.62" y="76.88" font-size="12.4" fill="#000" font-family='"Liberation Sans", sans-serif' textLength="26.8" lengthAdjust="spacingAndGlyphs">-300</text>
<text x="19.62" y="141.63" font-size="12.4" fill="#000" font-family='"Liberation Sans", sans-serif' textLength="26.8" lengthAdjust="spacingAndGlyphs">-200</text>
<text x="19.62" y="206.38" font-size="12.4" fill="#000" font-family='"Liberation Sans", sans-serif' textLength="26.8" lengthAdjust="spacingAndGlyphs">-100</text>
<text x="420.69" y="266.7" font-size="12.4" fill="#000" font-family='"Liberation Sans", sans-serif' textLength="19.36" lengthAdjust="spacingAndGlyphs">-10</text>
<text x="466.84" y="266.7" font-size="12.4" fill="#000" font-family='"Liberation Sans", sans-serif' textLength="11.91" lengthAdjust="spacingAndGlyphs">-8</text>
<text x="509.25" y="266.7" font-size="12.4" fill="#000" font-family='"Liberation Sans", sans-serif' textLength="11.91" lengthAdjust="spacingAndGlyphs">-6</text>
<text x="551.55" y="266.7" font-size="12.4" fill="#000" font-family='"Liberation Sans", sans-serif' textLength="11.91" lengthAdjust="spacingAndGlyphs">-4</text>
<text x="594.09" y="266.7" font-size="12.4" fill="#000" font-family='"Liberation Sans", sans-serif' textLength="11.91" lengthAdjust="spacingAndGlyphs">-2</text>
<text x="638.68" y="266.7" font-size="12.4" fill="#000" font-family='"Liberation Sans", sans-serif' textLength="7.45" lengthAdjust="spacingAndGlyphs">0</text>
<text x="681.08" y="266.7" font-size="12.4" fill="#000" font-family='"Liberation Sans", sans-serif' textLength="7.45" lengthAdjust="spacingAndGlyphs">2</text>
<text x="399.08" y="31.83" font-size="12.4" fill="#000" font-family='"Liberation Sans", sans-serif' textLength="11.91" lengthAdjust="spacingAndGlyphs">-4</text>
<text x="399.28" y="67.11" font-size="12.4" fill="#000" font-family='"Liberation Sans", sans-serif' textLength="11.91" lengthAdjust="spacingAndGlyphs">-6</text>
<text x="399.27" y="102.39" font-size="12.4" fill="#000" font-family='"Liberation Sans", sans-serif' textLength="11.91" lengthAdjust="spacingAndGlyphs">-8</text>
<text x="391.77" y="137.67" font-size="12.4" fill="#000" font-family='"Liberation Sans", sans-serif' textLength="19.36" lengthAdjust="spacingAndGlyphs">-10</text>
<text x="391.92" y="172.95" font-size="12.4" fill="#000" font-family='"Liberation Sans", sans-serif' textLength="19.36" lengthAdjust="spacingAndGlyphs">-12</text>
<text x="391.64" y="208.23" font-size="12.4" fill="#000" font-family='"Liberation Sans", sans-serif' textLength="19.36" lengthAdjust="spacingAndGlyphs">-14</text>
<text x="391.84" y="243.51" font-size="12.4" fill="#000" font-family='"Liberation Sans", sans-serif' textLength="19.36" lengthAdjust="spacingAndGlyphs">-16</text>
<text x="183.61" y="279" font-size="11.8" fill="#000" font-family='"Liberation Sans", sans-serif' textLength="35.01" lengthAdjust="spacingAndGlyphs">Y (pc)</text>
<text x="540.53" y="279" font-size="11.8" fill="#000" font-family='"Liberation Sans", sans-serif' textLength="51.01" lengthAdjust="spacingAndGlyphs">V (km/s)</text>
<text transform="translate(9.9,147.4) rotate(-90)" x="-0.3" y="0" font-size="11.8" font-family='"Liberation Sans", sans-serif' textLength="34.91" lengthAdjust="spacingAndGlyphs">X (pc)</text>
<text transform="translate(382.2,154.6) rotate(-90)" x="-1.05" y="0" font-size="11.8" font-family='"Liberation Sans", sans-serif' textLength="51.49" lengthAdjust="spacingAndGlyphs">U (km/s)</text>
<text x="171.44" y="80.2" font-size="11.6" fill="#787878" font-family='"Liberation Sans", sans-serif' textLength="35.97" lengthAdjust="spacingAndGlyphs">300 pc</text>
<text x="282.2" y="140.5" font-size="11.6" fill="#787878" font-family='"Liberation Sans", sans-serif' textLength="36.22" lengthAdjust="spacingAndGlyphs">200 pc</text>
<text x="299.79" y="226.7" font-size="11.6" fill="#787878" font-family='"Liberation Sans", sans-serif' textLength="35.82" lengthAdjust="spacingAndGlyphs">100 pc</text>
<text x="582.45" y="191.1" font-size="11.6" fill="#787878" font-family='"Liberation Sans", sans-serif' textLength="34.77" lengthAdjust="spacingAndGlyphs">3 km s</text>
<text x="617.21" y="185.7" font-size="8" fill="#787878" font-family='"Liberation Sans", sans-serif' textLength="9.08" lengthAdjust="spacingAndGlyphs">−1</text>
<rect x="220.9" y="14.3" width="121.4" height="68.7" fill="#fff" stroke="#000" stroke-width="1.1"/>
<path d="M225.9 25.2L230.3 23L230.3 27.4Z" fill="#e41a1c" fill-opacity="0.8"/>
<rect x="225.1" y="35.1" width="6" height="6" fill="none" stroke="#808080" stroke-width="1.1" stroke-opacity="0.85"/>
<rect x="225.75" y="48.05" width="4.7" height="4.7" fill="none" stroke="#4daf4a" stroke-width="1.2" stroke-opacity="1"/>
<circle cx="228.1" cy="62.2" r="2.95" fill="#377eb8" fill-opacity="0.85"/>
<path d="M225.3 71.2L230.9 76.8M225.3 76.8L230.9 71.2" stroke="#ff7f00" stroke-width="1.1" fill="none"/>
<text x="235.2" y="28.3" font-size="8.3" fill="#e41a1c" font-family='"Liberation Sans", sans-serif' textLength="96.23" lengthAdjust="spacingAndGlyphs" fill-opacity="0.85">Oh et al. (2017) group 51</text>
<text x="235.41" y="41.1" font-size="8.3" fill="#8f8f8f" font-family='"Liberation Sans", sans-serif' textLength="37.55" lengthAdjust="spacingAndGlyphs">Theia 218</text>
<text x="235.42" y="53.2" font-size="8.3" fill="#4daf4a" font-family='"Liberation Sans", sans-serif' textLength="100.41" lengthAdjust="spacingAndGlyphs" fill-opacity="0.85">Theia 218 (UVW selection)</text>
<text x="235.17" y="64.9" font-size="8.3" fill="#377eb8" font-family='"Liberation Sans", sans-serif' textLength="36.05" lengthAdjust="spacingAndGlyphs" fill-opacity="0.85">Crius 172</text>
<text x="234.95" y="76.6" font-size="8.3" fill="#ff7f00" font-family='"Liberation Sans", sans-serif' textLength="49.05" lengthAdjust="spacingAndGlyphs" fill-opacity="0.85">UVW outliers</text>
<rect x="596.7" y="14.5" width="104.4" height="60.9" fill="#fff" stroke="#000" stroke-width="1.1"/>
<path d="M602.25 24.3L606.15 22.35L606.15 26.25Z" fill="#e41a1c" fill-opacity="0.8"/>
<rect x="601.1" y="31.9" width="6.2" height="6.2" fill="none" stroke="#808080" stroke-width="1.1" stroke-opacity="0.85"/>
<rect x="601.7" y="43.4" width="5" height="5" fill="none" stroke="#4daf4a" stroke-width="1.2" stroke-opacity="1"/>
<circle cx="604.2" cy="56.3" r="2.7" fill="#377eb8" fill-opacity="0.85"/>
<path d="M601.3 63.7L607.1 69.5M601.3 69.5L607.1 63.7" stroke="#ff7f00" stroke-width="1.1" fill="none"/>
<text x="611.08" y="26.9" font-size="6.6" fill="#e41a1c" font-family='"Liberation Sans", sans-serif' textLength="76.46" lengthAdjust="spacingAndGlyphs" fill-opacity="0.85">Oh et al. (2017) group 51</text>
<text x="611.25" y="37.6" font-size="6.6" fill="#8f8f8f" font-family='"Liberation Sans", sans-serif' textLength="29.83" lengthAdjust="spacingAndGlyphs">Theia 218</text>
<text x="611.25" y="48.1" font-size="6.6" fill="#4daf4a" font-family='"Liberation Sans", sans-serif' textLength="79.76" lengthAdjust="spacingAndGlyphs" fill-opacity="0.85">Theia 218 (UVW selection)</text>
<text x="611.06" y="58.2" font-size="6.6" fill="#377eb8" font-family='"Liberation Sans", sans-serif' textLength="28.88" lengthAdjust="spacingAndGlyphs" fill-opacity="0.85">Crius 172</text>
<text x="610.88" y="68.4" font-size="6.6" fill="#ff7f00" font-family='"Liberation Sans", sans-serif' textLength="39.15" lengthAdjust="spacingAndGlyphs" fill-opacity="0.85">UVW outliers</text>
<text x="45.07" y="304.3" font-size="11.6" fill="#000" font-family='"Liberation Serif", serif' textLength="15.96" lengthAdjust="spacingAndGlyphs">(a)</text>
<text x="65.06" y="304.3" font-size="11.6" fill="#2d2d8f" font-family='"Liberation Serif", serif' textLength="16.22" lengthAdjust="spacingAndGlyphs">Oh</text>
<text x="85.26" y="304.3" font-size="11.6" fill="#2d2d8f" font-family='"Liberation Serif", serif' textLength="10.02" lengthAdjust="spacingAndGlyphs">et</text>
<text x="99.09" y="304.3" font-size="11.6" fill="#2d2d8f" font-family='"Liberation Serif", serif' textLength="14.17" lengthAdjust="spacingAndGlyphs">al.</text>
<text x="117.22" y="304.3" font-size="11.6" fill="#000" font-family='"Liberation Serif", serif' textLength="4.41" lengthAdjust="spacingAndGlyphs">(</text>
<text x="121.37" y="304.3" font-size="11.6" fill="#2d2d8f" font-family='"Liberation Serif", serif' textLength="24.29" lengthAdjust="spacingAndGlyphs">2017</text>
<text x="145.76" y="304.3" font-size="11.6" fill="#000" font-family='"Liberation Serif", serif' textLength="4.54" lengthAdjust="spacingAndGlyphs">)</text>
<text x="154.45" y="304.3" font-size="11.6" fill="#000" font-family='"Liberation Serif", serif' textLength="34.48" lengthAdjust="spacingAndGlyphs">Group</text>
<text x="192.72" y="304.3" font-size="11.6" fill="#000" font-family='"Liberation Serif", serif' textLength="11.79" lengthAdjust="spacingAndGlyphs">51</text>
<text x="208.61" y="304.3" font-size="11.6" fill="#000" font-family='"Liberation Serif", serif' textLength="35.07" lengthAdjust="spacingAndGlyphs">corona</text>
<text x="248.24" y="304.3" font-size="11.6" fill="#000" font-family='"Liberation Serif", serif' textLength="9.54" lengthAdjust="spacingAndGlyphs">in</text>
<text x="263.11" y="304.3" font-size="11.6" fill="#000" font-family='"Liberation Serif", serif' font-style="italic" textLength="18.11" lengthAdjust="spacingAndGlyphs">XY</text>
<text x="286.46" y="304.3" font-size="11.6" fill="#000" font-family='"Liberation Serif", serif' textLength="29.09" lengthAdjust="spacingAndGlyphs">space</text>
<text x="410.08" y="304.3" font-size="11.6" fill="#000" font-family='"Liberation Serif", serif' textLength="16.44" lengthAdjust="spacingAndGlyphs">(b)</text>
<text x="430.06" y="304.3" font-size="11.6" fill="#2d2d8f" font-family='"Liberation Serif", serif' textLength="16.22" lengthAdjust="spacingAndGlyphs">Oh</text>
<text x="450.26" y="304.3" font-size="11.6" fill="#2d2d8f" font-family='"Liberation Serif", serif' textLength="10.02" lengthAdjust="spacingAndGlyphs">et</text>
<text x="464.09" y="304.3" font-size="11.6" fill="#2d2d8f" font-family='"Liberation Serif", serif' textLength="14.17" lengthAdjust="spacingAndGlyphs">al.</text>
<text x="482.22" y="304.3" font-size="11.6" fill="#000" font-family='"Liberation Serif", serif' textLength="4.41" lengthAdjust="spacingAndGlyphs">(</text>
<text x="486.37" y="304.3" font-size="11.6" fill="#2d2d8f" font-family='"Liberation Serif", serif' textLength="24.29" lengthAdjust="spacingAndGlyphs">2017</text>
<text x="510.76" y="304.3" font-size="11.6" fill="#000" font-family='"Liberation Serif", serif' textLength="4.54" lengthAdjust="spacingAndGlyphs">)</text>
<text x="519.45" y="304.3" font-size="11.6" fill="#000" font-family='"Liberation Serif", serif' textLength="34.48" lengthAdjust="spacingAndGlyphs">Group</text>
<text x="557.72" y="304.3" font-size="11.6" fill="#000" font-family='"Liberation Serif", serif' textLength="11.79" lengthAdjust="spacingAndGlyphs">51</text>
<text x="573.61" y="304.3" font-size="11.6" fill="#000" font-family='"Liberation Serif", serif' textLength="35.07" lengthAdjust="spacingAndGlyphs">corona</text>
<text x="613.24" y="304.3" font-size="11.6" fill="#000" font-family='"Liberation Serif", serif' textLength="9.54" lengthAdjust="spacingAndGlyphs">in</text>
<text x="651.46" y="304.3" font-size="11.6" fill="#000" font-family='"Liberation Serif", serif' textLength="29.09" lengthAdjust="spacingAndGlyphs">space</text>
<text x="627.05" y="304.3" font-size="11.6" fill="#000" font-family='"Liberation Serif", serif' font-style="italic" textLength="18.15" lengthAdjust="spacingAndGlyphs">UV</text>
</svg></body></html>
